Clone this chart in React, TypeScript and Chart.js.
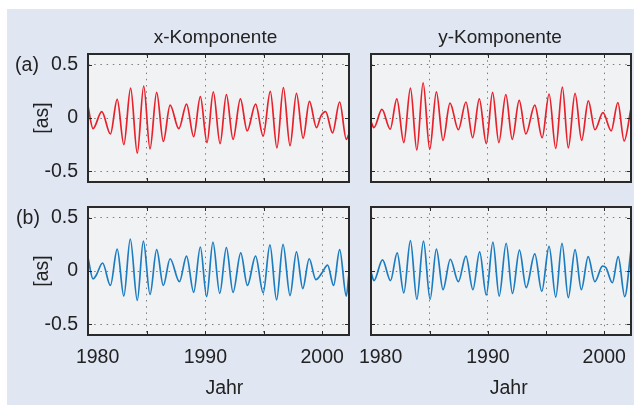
import React, { useEffect, useRef } from 'react';
import { Chart, registerables } from 'chart.js';

Chart.register(...registerables);

// ---------- data ----------
// (a) x-Komponente, red
const axYears = [1979.95, 1980.38, 1981.13, 1981.87, 1982.45, 1983.02, 1983.6, 1984.17, 1984.72, 1985.26, 1985.83, 1986.4, 1986.98, 1987.73, 1988.39, 1989.0, 1989.57, 1990.14, 1990.68, 1991.26, 1991.8, 1992.37, 1993.0, 1993.58, 1994.3, 1994.95, 1995.56, 1996.13, 1996.68, 1997.25, 1997.8, 1998.37, 1998.91, 1999.52, 1999.9, 2000.3, 2000.89, 2001.5, 2002.07, 2002.3];
const axValues = [0.11, -0.10, 0.06, -0.15, 0.175, -0.25, 0.28, -0.33, 0.30, -0.29, 0.24, -0.22, 0.12, -0.10, 0.13, -0.175, 0.20, -0.23, 0.245, -0.24, 0.22, -0.20, 0.18, -0.12, 0.13, -0.17, 0.25, -0.28, 0.285, -0.26, 0.23, -0.19, 0.155, -0.09, 0.02, 0.06, -0.14, 0.15, -0.20, -0.15];

// (a) y-Komponente, red
const ayYears = [1979.95, 1980.2, 1980.89, 1981.6, 1982.17, 1982.77, 1983.34, 1983.89, 1984.43, 1985.0, 1985.57, 1986.14, 1986.74, 1987.46, 1988.11, 1988.69, 1989.26, 1989.86, 1990.4, 1990.94, 1991.54, 1992.09, 1992.69, 1993.26, 1994.03, 1994.66, 1995.26, 1995.83, 1996.4, 1996.91, 1997.49, 1998.06, 1998.63, 1999.2, 1999.89, 2000.6, 2001.17, 2001.71, 2002.3];
const ayValues = [-0.035, -0.09, 0.08, -0.105, 0.18, -0.23, 0.28, -0.30, 0.33, -0.295, 0.245, -0.21, 0.14, -0.11, 0.15, -0.185, 0.18, -0.24, 0.24, -0.23, 0.22, -0.20, 0.165, -0.15, 0.12, -0.185, 0.225, -0.285, 0.29, -0.28, 0.23, -0.21, 0.16, -0.11, 0.05, -0.12, 0.145, -0.215, 0.09];

// (b) x-Komponente, blue
const bxYears = [1979.95, 1980.38, 1980.65, 1981.2, 1981.87, 1982.45, 1983.02, 1983.57, 1984.17, 1984.69, 1985.26, 1985.83, 1986.4, 1986.98, 1987.78, 1988.39, 1989.0, 1989.57, 1990.11, 1990.65, 1991.23, 1991.8, 1992.37, 1993.03, 1993.6, 1994.3, 1994.95, 1995.53, 1996.1, 1996.65, 1997.25, 1997.8, 1998.34, 1998.89, 1999.46, 1999.97, 2000.47, 2000.98, 2001.5, 2002.07, 2002.3];
const bxValues = [0.125, -0.075, -0.04, 0.075, -0.135, 0.205, -0.235, 0.30, -0.275, 0.28, -0.22, 0.20, -0.135, 0.115, -0.10, 0.14, -0.20, 0.225, -0.24, 0.27, -0.21, 0.22, -0.20, 0.17, -0.135, 0.14, -0.205, 0.245, -0.27, 0.25, -0.23, 0.18, -0.165, 0.115, -0.08, -0.02, 0.056, -0.135, 0.20, -0.235, -0.015];

// (b) y-Komponente, blue
const byYears = [1979.95, 1980.2, 1980.94, 1981.63, 1982.2, 1982.77, 1983.34, 1983.89, 1984.46, 1985.03, 1985.57, 1986.14, 1986.77, 1987.46, 1988.11, 1988.71, 1989.29, 1989.86, 1990.43, 1990.97, 1991.57, 1992.11, 1992.71, 1993.29, 1994.03, 1994.63, 1995.26, 1995.83, 1996.37, 1996.91, 1997.49, 1998.03, 1998.62, 1999.19, 1999.85, 2000.15, 2000.7, 2001.2, 2001.76, 2002.3];
const byValues = [-0.01, -0.09, 0.105, -0.09, 0.17, -0.205, 0.285, -0.265, 0.28, -0.265, 0.205, -0.175, 0.11, -0.10, 0.14, -0.175, 0.18, -0.225, 0.27, -0.235, 0.26, -0.21, 0.195, -0.155, 0.16, -0.19, 0.23, -0.245, 0.26, -0.25, 0.20, -0.175, 0.135, -0.10, 0.045, 0.03, -0.11, 0.135, -0.24, 0.2];

const yTickValues = [-0.5, 0, 0.5];
const xTickValues = [1980, 1985, 1990, 1995, 2000];
const xLabelValues = [1980, 1990, 2000];
const columnTitles = ['x-Komponente', 'y-Komponente'];
const rowLabels = ['(a)', '(b)'];
const yAxisTitle = '[as]';
const xAxisTitle = 'Jahr';

const X_MIN = 1979.95;
const X_MAX = 2002.3;
const Y_MIN = -0.6;
const Y_MAX = 0.6;

const RED = '#e8202a';
const BLUE = '#1c7cc0';
const FONT = "'Liberation Sans', Arial, Helvetica, sans-serif";
const TEXT = '#222222';
const PAGE_BG = '#e0e7f3';
const PLOT_BG = '#f1f2f4';
const TICK_SIZE = 19.5;

const framePlugin = {
  id: 'frame',
  beforeDraw(chart: any) {
    const { ctx, chartArea: a } = chart;
    ctx.save();
    ctx.fillStyle = PLOT_BG;
    ctx.fillRect(a.left, a.top, a.right - a.left, a.bottom - a.top);
    ctx.restore();
    const xs = chart.scales.x;
    if (xs && xs.options.ticks.display) {
      const items = xs.getLabelItems();
      for (const it of items) {
        if (it.label === '1980' && !it._shifted) {
          it.options.translation[0] += 9;
          it._shifted = true;
        }
      }
    }
  },
  afterDatasetsDraw(chart: any) {
    const { ctx, chartArea: a, scales } = chart;
    ctx.save();
    ctx.strokeStyle = '#2a2a2a';
    ctx.lineWidth = 1;
    const tl = 4;
    for (const v of xTickValues) {
      if (v === 1980) continue;
      const px = Math.round(scales.x.getPixelForValue(v)) + 0.5;
      ctx.beginPath();
      ctx.moveTo(px, a.top);
      ctx.lineTo(px, a.top + tl);
      ctx.moveTo(px, a.bottom);
      ctx.lineTo(px, a.bottom - tl);
      ctx.stroke();
    }
    for (const v of yTickValues) {
      const py = Math.round(scales.y.getPixelForValue(v)) + 0.5;
      ctx.beginPath();
      ctx.moveTo(a.left, py);
      ctx.lineTo(a.left + tl, py);
      ctx.moveTo(a.right, py);
      ctx.lineTo(a.right - tl, py);
      ctx.stroke();
    }
    ctx.lineWidth = 2;
    ctx.strokeRect(a.left, a.top, a.right - a.left, a.bottom - a.top);
    ctx.restore();
  },
};

function zeroPadding(s: any) {
  s.paddingLeft = 0;
  s.paddingRight = 0;
  s.paddingTop = 0;
  s.paddingBottom = 0;
}

type PanelProps = {
  left: number; top: number; width: number; height: number;
  area: { left: number; top: number; right: number; bottom: number };
  years: number[]; values: number[]; color: string;
  showY: boolean; showX: boolean;
};

function Panel(p: PanelProps) {
  const ref = useRef<HTMLCanvasElement>(null);
  useEffect(() => {
    if (!ref.current) return;
    const gridColor = '#7d7d7d';
    const chart = new Chart(ref.current, {
      type: 'line',
      data: {
        datasets: [
          {
            data: p.years.map((x, i) => ({ x, y: p.values[i] })),
            borderColor: p.color,
            borderWidth: 1.7,
            pointRadius: 0,
            cubicInterpolationMode: 'monotone',
            fill: false,
          } as any,
        ],
      },
      options: {
        animation: false,
        responsive: false,
        maintainAspectRatio: false,
        devicePixelRatio: 1,
        events: [],
        layout: { padding: { left: 0, top: p.area.top, right: p.width - p.area.right, bottom: 0 } },
        plugins: { legend: { display: false }, tooltip: { enabled: false }, title: { display: false } },
        scales: {
          x: {
            type: 'linear',
            min: X_MIN,
            max: X_MAX,
            afterFit: (s: any) => { s.height = p.height - p.area.bottom; zeroPadding(s); },
            afterBuildTicks: (s: any) => { s.ticks = xTickValues.map((v) => ({ value: v })); },
            ticks: {
              display: p.showX,
              autoSkip: false,
              maxRotation: 0,
              minRotation: 0,
              padding: 11,
              color: TEXT,
              font: { family: FONT, size: TICK_SIZE },
              callback: (v: any) => (xLabelValues.includes(Number(v)) ? String(v) : ''),
            },
            grid: {
              drawTicks: false,
              lineWidth: 1,
              color: (c: any) => (c.tick && c.tick.value === 1980 ? 'rgba(0,0,0,0)' : gridColor),
            },
            border: { display: false, dash: [1.5, 4.7] },
          },
          y: {
            type: 'linear',
            min: Y_MIN,
            max: Y_MAX,
            afterFit: (s: any) => { s.width = p.area.left; zeroPadding(s); },
            afterBuildTicks: (s: any) => { s.ticks = yTickValues.map((v) => ({ value: v })); },
            ticks: {
              display: p.showY,
              padding: 10,
              color: TEXT,
              font: { family: FONT, size: TICK_SIZE },
              callback: (v: any) => String(v),
            },
            title: {
              display: p.showY,
              text: yAxisTitle,
              color: TEXT,
              font: { family: FONT, size: TICK_SIZE },
              padding: { top: 31.3, bottom: 0 },
            },
            grid: { drawTicks: false, lineWidth: 1, color: gridColor },
            border: { display: false, dash: [1.5, 4.7] },
          },
        },
      } as any,
      plugins: [framePlugin],
    });
    return () => chart.destroy();
  }, []);
  return (
    <canvas
      ref={ref}
      width={p.width}
      height={p.height}
      style={{ position: 'absolute', left: p.left, top: p.top, width: p.width, height: p.height }}
    />
  );
}

function Label({ x, y, text, size }: { x: number; y: number; text: string; size: number }) {
  return (
    <div
      style={{
        position: 'absolute',
        left: x,
        top: y,
        transform: 'translate(-50%, -50%)',
        fontFamily: FONT,
        fontSize: size,
        lineHeight: 1,
        color: TEXT,
        whiteSpace: 'nowrap',
        zIndex: 5,
      }}
    >
      {text}
    </div>
  );
}

export default function App() {
  const topArea = { left: 88, top: 54, right: 349, bottom: 182 };
  const topAreaR = { left: 31, top: 54, right: 291, bottom: 182 };
  const botArea = { left: 88, top: 7, right: 349, bottom: 135 };
  const botAreaR = { left: 31, top: 7, right: 291, bottom: 135 };
  return (
    <div style={{ position: 'fixed', left: 0, top: 0, width: 634, height: 405, background: '#ffffff', overflow: 'hidden' }}>
      <div style={{ position: 'absolute', left: 7, top: 9, width: 627, height: 396, background: PAGE_BG }} />
      <Panel left={0} top={0} width={356} height={200} area={topArea} years={axYears} values={axValues} color={RED} showY={true} showX={false} />
      <Panel left={340} top={0} width={294} height={200} area={topAreaR} years={ayYears} values={ayValues} color={RED} showY={false} showX={false} />
      <Panel left={0} top={200} width={356} height={205} area={botArea} years={bxYears} values={bxValues} color={BLUE} showY={true} showX={true} />
      <Panel left={340} top={200} width={294} height={205} area={botAreaR} years={byYears} values={byValues} color={BLUE} showY={false} showX={true} />
      <Label x={215.5} y={35.5} text={columnTitles[0]} size={19} />
      <Label x={500} y={35.5} text={columnTitles[1]} size={19} />
      <Label x={27} y={65} text={rowLabels[0]} size={TICK_SIZE} />
      <Label x={28} y={218} text={rowLabels[1]} size={TICK_SIZE} />
      <Label x={224.4} y={388} text={xAxisTitle} size={TICK_SIZE} />
      <Label x={508.7} y={388} text={xAxisTitle} size={TICK_SIZE} />
    </div>
  );
}
